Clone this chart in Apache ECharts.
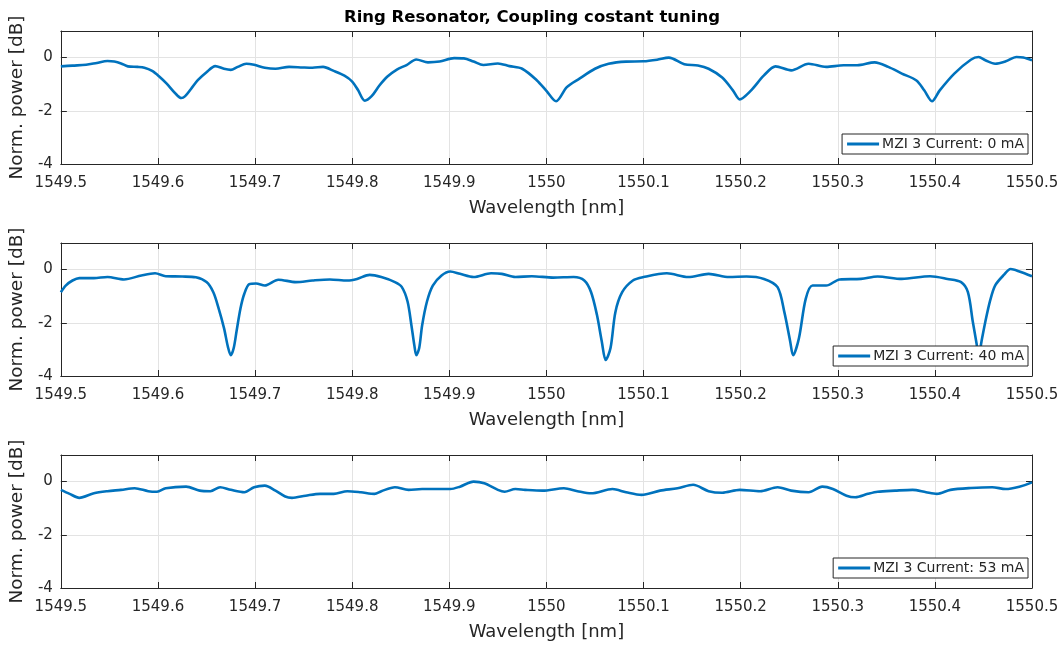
<!DOCTYPE html>
<html>
<head>
<meta charset="utf-8">
<script src="https://cdn.jsdelivr.net/npm/echarts@6/dist/echarts.min.js"></script>
<style>html,body{margin:0;padding:0;background:#fff}#c{width:1064px;height:648px}</style>
</head>
<body>
<div id="c"></div>
<script>
const chartTitle = 'Ring Resonator, Coupling costant tuning';
const seriesNames = ['MZI 3 Current: 0 mA', 'MZI 3 Current: 40 mA', 'MZI 3 Current: 53 mA'];
const xName = 'Wavelength [nm]';
const yName = 'Norm. power [dB]';
const xMin = 1549.5, xMax = 1550.5, xStep = 0.1;
const yMin = -4, yMax = 1, yStep = 2;

const wl0 = [1549.500,1549.512,1549.526,1549.537,1549.548,1549.555,1549.562,1549.569,1549.579,1549.586,1549.594,1549.601,1549.609,1549.618,1549.624,1549.628,1549.634,1549.641,1549.650,1549.659,1549.668,1549.675,1549.682,1549.691,1549.699,1549.710,1549.721,1549.735,1549.749,1549.759,1549.770,1549.781,1549.792,1549.800,1549.806,1549.813,1549.820,1549.828,1549.836,1549.846,1549.856,1549.866,1549.878,1549.890,1549.905,1549.915,1549.925,1549.935,1549.950,1549.962,1549.975,1549.990,1550.000,1550.010,1550.021,1550.034,1550.050,1550.064,1550.082,1550.100,1550.114,1550.126,1550.142,1550.156,1550.167,1550.181,1550.192,1550.199,1550.210,1550.224,1550.236,1550.252,1550.270,1550.288,1550.306,1550.320,1550.338,1550.352,1550.366,1550.381,1550.389,1550.397,1550.405,1550.420,1550.437,1550.445,1550.452,1550.462,1550.473,1550.484,1550.491,1550.500];
const pw0 = [-0.33,-0.30,-0.27,-0.20,-0.13,-0.15,-0.22,-0.33,-0.35,-0.38,-0.50,-0.70,-0.98,-1.35,-1.52,-1.45,-1.18,-0.85,-0.55,-0.32,-0.42,-0.46,-0.35,-0.23,-0.27,-0.38,-0.42,-0.35,-0.37,-0.38,-0.35,-0.50,-0.68,-0.90,-1.22,-1.62,-1.45,-1.05,-0.72,-0.45,-0.28,-0.07,-0.18,-0.15,-0.02,-0.03,-0.15,-0.28,-0.22,-0.32,-0.42,-0.85,-1.25,-1.64,-1.11,-0.79,-0.42,-0.23,-0.15,-0.14,-0.08,0.0,-0.25,-0.30,-0.42,-0.75,-1.23,-1.57,-1.26,-0.67,-0.33,-0.48,-0.23,-0.35,-0.29,-0.29,-0.18,-0.35,-0.60,-0.86,-1.23,-1.64,-1.23,-0.60,-0.08,0.02,-0.10,-0.23,-0.14,0.02,0.0,-0.10];

const wl40 = [1549.500,1549.505,1549.512,1549.519,1549.534,1549.548,1549.565,1549.583,1549.597,1549.608,1549.625,1549.639,1549.650,1549.657,1549.662,1549.668,1549.672,1549.675,1549.678,1549.681,1549.685,1549.689,1549.694,1549.701,1549.710,1549.724,1549.742,1549.759,1549.777,1549.795,1549.805,1549.818,1549.830,1549.844,1549.851,1549.857,1549.861,1549.864,1549.866,1549.869,1549.872,1549.877,1549.883,1549.892,1549.901,1549.911,1549.925,1549.943,1549.954,1549.968,1549.985,1550.007,1550.028,1550.039,1550.046,1550.052,1550.057,1550.061,1550.066,1550.071,1550.078,1550.089,1550.100,1550.124,1550.146,1550.167,1550.188,1550.206,1550.224,1550.238,1550.245,1550.251,1550.254,1550.260,1550.267,1550.274,1550.288,1550.302,1550.324,1550.341,1550.366,1550.395,1550.413,1550.427,1550.434,1550.439,1550.443,1550.445,1550.448,1550.452,1550.457,1550.462,1550.471,1550.478,1550.487,1550.500];
const pw40 = [-0.85,-0.60,-0.41,-0.32,-0.32,-0.28,-0.37,-0.22,-0.14,-0.25,-0.26,-0.29,-0.47,-0.85,-1.40,-2.20,-2.90,-3.22,-2.95,-2.30,-1.45,-0.90,-0.55,-0.52,-0.60,-0.38,-0.47,-0.41,-0.37,-0.41,-0.35,-0.20,-0.28,-0.47,-0.65,-1.20,-2.10,-2.85,-3.22,-2.95,-2.10,-1.20,-0.60,-0.22,-0.07,-0.16,-0.28,-0.14,-0.16,-0.28,-0.25,-0.30,-0.28,-0.41,-0.85,-1.70,-2.70,-3.40,-2.95,-1.60,-0.85,-0.41,-0.28,-0.14,-0.28,-0.16,-0.28,-0.26,-0.35,-0.66,-1.60,-2.70,-3.22,-2.58,-1.10,-0.60,-0.60,-0.37,-0.35,-0.26,-0.35,-0.25,-0.35,-0.47,-0.85,-1.95,-2.80,-3.30,-2.70,-1.95,-1.15,-0.60,-0.20,0.02,-0.07,-0.25];

const wl53 = [1549.500,1549.509,1549.519,1549.534,1549.548,1549.562,1549.576,1549.590,1549.599,1549.608,1549.629,1549.643,1549.654,1549.664,1549.675,1549.689,1549.699,1549.710,1549.721,1549.731,1549.738,1549.752,1549.767,1549.781,1549.795,1549.809,1549.823,1549.830,1549.844,1549.858,1549.872,1549.887,1549.901,1549.911,1549.925,1549.936,1549.950,1549.957,1549.968,1549.978,1549.996,1550.018,1550.032,1550.046,1550.068,1550.082,1550.098,1550.117,1550.135,1550.151,1550.167,1550.181,1550.199,1550.220,1550.238,1550.252,1550.270,1550.284,1550.295,1550.309,1550.318,1550.331,1550.341,1550.359,1550.377,1550.391,1550.402,1550.416,1550.437,1550.459,1550.473,1550.487,1550.500];
const pw53 = [-0.31,-0.46,-0.61,-0.44,-0.36,-0.31,-0.25,-0.36,-0.38,-0.25,-0.19,-0.34,-0.36,-0.21,-0.31,-0.40,-0.21,-0.15,-0.34,-0.56,-0.61,-0.53,-0.46,-0.46,-0.36,-0.40,-0.46,-0.36,-0.21,-0.31,-0.28,-0.28,-0.28,-0.19,0.0,-0.06,-0.31,-0.38,-0.28,-0.31,-0.34,-0.25,-0.36,-0.44,-0.28,-0.40,-0.50,-0.34,-0.25,-0.12,-0.36,-0.42,-0.31,-0.36,-0.21,-0.34,-0.40,-0.19,-0.28,-0.53,-0.59,-0.46,-0.38,-0.34,-0.31,-0.40,-0.46,-0.31,-0.24,-0.21,-0.28,-0.19,-0.03];

const wls = [wl0, wl40, wl53];
const pws = [pw0, pw40, pw53];

const FONT = 'DejaVu Sans';
const AX = '#262626';
const LINE = '#0072BD';
const grids = [
  {left: 57, width: 975, top: 31, height: 133},
  {left: 57, width: 975, top: 243, height: 133},
  {left: 57, width: 975, top: 455, height: 133}
];
const legendTops = [134, 346, 558];

const xAxes = [], yAxes = [], series = [], legends = [];
grids.forEach((g, i) => {
  xAxes.push({
    type: 'value', gridIndex: i, position: 'bottom', min: xMin, max: xMax, interval: xStep,
    name: xName, nameLocation: 'middle', nameGap: 35,
    nameTextStyle: {fontFamily: FONT, fontSize: 18, color: AX},
    axisLine: {show: true, onZero: false, lineStyle: {color: AX, width: 1}},
    axisTick: {show: true, inside: true, length: 6, lineStyle: {color: AX}},
    axisLabel: {fontFamily: FONT, fontSize: 15, color: AX, margin: 12,
      formatter: v => String(+(+v).toFixed(1))},
    splitLine: {show: true, lineStyle: {color: '#e3e3e3', width: 1}}
  });
  xAxes.push({
    type: 'value', gridIndex: i, position: 'top', min: xMin, max: xMax, interval: xStep,
    axisLine: {show: true, onZero: false, lineStyle: {color: AX, width: 1}},
    axisTick: {show: true, inside: true, length: 6, lineStyle: {color: AX}},
    axisLabel: {show: false}, splitLine: {show: false}
  });
  yAxes.push({
    type: 'value', gridIndex: i, position: 'left', min: yMin, max: yMax, interval: yStep,
    name: yName, nameLocation: 'middle', nameGap: 25, nameRotate: 90,
    nameTextStyle: {fontFamily: FONT, fontSize: 18.5, color: AX},
    axisLine: {show: true, onZero: false, lineStyle: {color: AX, width: 1}},
    axisTick: {show: true, inside: true, length: 6, lineStyle: {color: AX}},
    axisLabel: {fontFamily: FONT, fontSize: 15, color: AX, margin: 8, showMaxLabel: false},
    splitLine: {show: true, lineStyle: {color: '#e3e3e3', width: 1}}
  });
  yAxes.push({
    type: 'value', gridIndex: i, position: 'right', min: yMin, max: yMax, interval: yStep,
    axisLine: {show: true, onZero: false, lineStyle: {color: AX, width: 1}},
    axisTick: {show: true, inside: true, length: 6, lineStyle: {color: AX}},
    axisLabel: {show: false}, splitLine: {show: false}
  });
  series.push({
    type: 'line', name: seriesNames[i], xAxisIndex: i * 2, yAxisIndex: i * 2,
    data: wls[i].map((w, k) => [w, pws[i][k]]),
    showSymbol: false, symbol: 'none', smooth: 0.3,
    lineStyle: {color: LINE, width: 2.6}, itemStyle: {color: LINE}
  });
  legends.push({
    data: [seriesNames[i]], right: 36, top: legendTops[i],
    orient: 'horizontal', backgroundColor: '#fff', borderColor: AX, borderWidth: 1,
    padding: [3, 4, 3, 5], icon: 'rect', itemWidth: 32, itemHeight: 3, itemGap: 0,
    textStyle: {fontFamily: FONT, fontSize: 14, color: AX, padding: [0, 0, 0, -2]}
  });
});

const chart = echarts.init(document.getElementById('c'), null, {renderer: 'canvas'});
chart.setOption({
  animation: false,
  backgroundColor: '#fff',
  title: {text: chartTitle, left: 'center', top: 4,
    textStyle: {fontFamily: FONT, fontSize: 16.5, fontWeight: 'bold', color: '#000'}},
  grid: grids,
  xAxis: xAxes,
  yAxis: yAxes,
  legend: legends,
  series: series
});
</script>
</body>
</html>
